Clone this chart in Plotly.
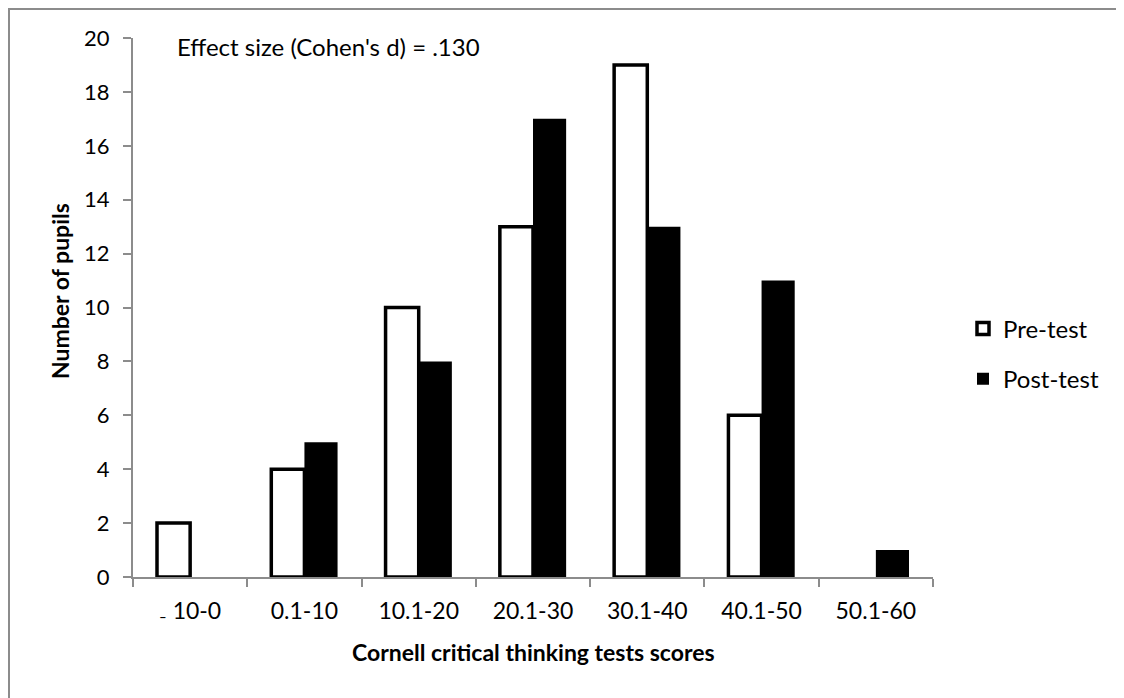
import plotly.graph_objects as go

categories = ["₋ 10-0", "0.1-10", "10.1-20", "20.1-30", "30.1-40", "40.1-50", "50.1-60"]
pre_test = [2, 4, 10, 13, 19, 6, 0]
post_test = [0, 5, 8, 17, 13, 11, 1]
y_ticks = [0, 2, 4, 6, 8, 10, 12, 14, 16, 18, 20]

FONT = "Lato"
AX = "#8c8c8c"

fig = go.Figure()
fig.add_trace(go.Bar(
    x=categories, y=pre_test, name="Pre-test", legendgroup="pre",
    marker=dict(color="white",
                line=dict(color="black", width=[3.5 if v > 0 else 0 for v in pre_test])),
))
fig.add_trace(go.Bar(
    x=categories, y=post_test, name="Post-test", legendgroup="post",
    marker=dict(color="black", line=dict(color="black", width=0)),
))

fig.update_layout(
    width=1124, height=698,
    margin=dict(l=125, r=199, t=30, b=129, autoexpand=False),
    paper_bgcolor="white", plot_bgcolor="white",
    barmode="group", bargap=0.42, bargroupgap=0,
    font=dict(family=FONT, size=22, color="black"),
    showlegend=True,
    legend=dict(x=1.0375, y=0.414, xanchor="left", yanchor="middle",
                font=dict(size=24), tracegroupgap=16, itemwidth=30,
                bgcolor="rgba(0,0,0,0)"),
    xaxis=dict(
        showline=True, linecolor=AX, linewidth=2,
        ticks="outside", tickson="boundaries", ticklen=8, tickcolor=AX, tickwidth=2,
        showgrid=False, tickfont=dict(size=23), ticklabelstandoff=12,
    ),
    yaxis=dict(
        range=[0, 20], tickvals=y_ticks,
        showline=True, linecolor=AX, linewidth=2,
        ticks="outside", ticklen=8, tickcolor=AX, tickwidth=2,
        showgrid=False, zeroline=False, tickfont=dict(size=22), ticklabelstandoff=9,
    ),
    annotations=[
        dict(text="Effect size (Cohen's d) = .130", xref="paper", yref="paper",
             x=0.053, y=0.985, xanchor="left", yanchor="middle", showarrow=False,
             font=dict(size=24)),
        dict(text="<b>Number of pupils</b>", xref="paper", yref="paper",
             x=-0.091, y=0.531, xanchor="center", yanchor="middle", textangle=-90,
             showarrow=False, font=dict(size=23)),
        dict(text="<b>Cornell critical thinking tests scores</b>", xref="paper", yref="paper",
             x=0.5, y=-0.139, xanchor="center", yanchor="middle",
             showarrow=False, font=dict(size=23)),
    ],
    shapes=[dict(
        type="rect", xref="paper", yref="paper",
        x0=-0.155, x1=1.234, y0=-0.3, y1=1.0538,
        line=dict(color="#8c8c8c", width=2), fillcolor="rgba(0,0,0,0)", layer="below",
    )],
)

fig.write_html("out.html")
